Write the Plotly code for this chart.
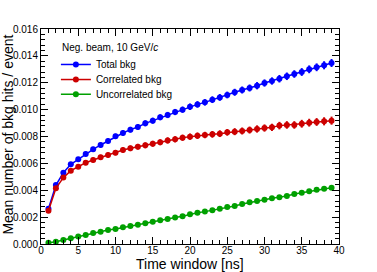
import plotly.graph_objects as go

time_ns = list(range(1, 40))

total_bkg = [0.00263, 0.00439, 0.00530, 0.00593, 0.00630, 0.00670, 0.00705, 0.00737, 0.00767, 0.00801,
             0.00826, 0.00851, 0.00871, 0.00898, 0.00918, 0.00943, 0.00960, 0.00982, 0.01000, 0.01022,
             0.01039, 0.01054, 0.01074, 0.01091, 0.01109, 0.01129, 0.01146, 0.01161, 0.01178, 0.01198,
             0.01213, 0.01230, 0.01248, 0.01265, 0.01280, 0.01300, 0.01315, 0.01330, 0.01347]
total_err = [0.00012, 0.00014, 0.00015, 0.00016, 0.00017, 0.00018, 0.00018, 0.00019, 0.00019, 0.00020,
             0.00020, 0.00021, 0.00021, 0.00022, 0.00022, 0.00022, 0.00023, 0.00023, 0.00023, 0.00024,
             0.00024, 0.00024, 0.00025, 0.00025, 0.00025, 0.00026, 0.00026, 0.00026, 0.00027, 0.00027,
             0.00027, 0.00028, 0.00028, 0.00028, 0.00029, 0.00029, 0.00029, 0.00030, 0.00030]

corr_bkg = [0.00248, 0.00414, 0.00494, 0.00546, 0.00575, 0.00605, 0.00625, 0.00645, 0.00662, 0.00680,
            0.00700, 0.00712, 0.00724, 0.00734, 0.00746, 0.00757, 0.00771, 0.00779, 0.00791, 0.00799,
            0.00806, 0.00811, 0.00816, 0.00821, 0.00831, 0.00836, 0.00841, 0.00848, 0.00856, 0.00863,
            0.00868, 0.00881, 0.00886, 0.00886, 0.00895, 0.00903, 0.00908, 0.00913, 0.00918]
corr_err = [0.00012, 0.00014, 0.00015, 0.00016, 0.00017, 0.00018, 0.00018, 0.00019, 0.00019, 0.00020,
            0.00020, 0.00021, 0.00021, 0.00022, 0.00022, 0.00022, 0.00023, 0.00023, 0.00023, 0.00024,
            0.00024, 0.00024, 0.00025, 0.00025, 0.00025, 0.00026, 0.00026, 0.00026, 0.00027, 0.00027,
            0.00027, 0.00028, 0.00028, 0.00028, 0.00029, 0.00029, 0.00029, 0.00030, 0.00030]

uncorr_bkg = [0.00010, 0.00017, 0.00030, 0.00042, 0.00055, 0.00067, 0.00082, 0.00092, 0.00104, 0.00112,
              0.00124, 0.00134, 0.00144, 0.00154, 0.00166, 0.00176, 0.00186, 0.00198, 0.00207, 0.00222,
              0.00233, 0.00241, 0.00251, 0.00263, 0.00275, 0.00283, 0.00298, 0.00310, 0.00320, 0.00330,
              0.00340, 0.00347, 0.00357, 0.00372, 0.00382, 0.00392, 0.00404, 0.00412, 0.00419]
uncorr_err = [0.00003] * 39

legend_header = "Neg. beam, 10 GeV/<i>c</i>"
names = ["Total bkg", "Correlated bkg", "Uncorrelated bkg"]
colors = ["#0000ff", "#cc0000", "#00a000"]
legend_ids = ["legend", "legend2", "legend3"]

fig = go.Figure()
for y, e, n, c, lg in [(total_bkg, total_err, names[0], colors[0], legend_ids[0]),
                       (corr_bkg, corr_err, names[1], colors[1], legend_ids[1]),
                       (uncorr_bkg, uncorr_err, names[2], colors[2], legend_ids[2])]:
    fig.add_trace(go.Scatter(
        x=time_ns, y=y, name=n, mode="lines+markers", legend=lg,
        line=dict(color=c, width=1.5),
        marker=dict(color=c, size=6, symbol="circle"),
        error_y=dict(type="data", array=e, color=c, thickness=2, width=0),
    ))

font = "Liberation Sans, Arial, sans-serif"
leg_common = dict(x=0.05, xanchor="left", yanchor="middle", bgcolor="rgba(0,0,0,0)",
                  font=dict(size=10), itemwidth=30)
fig.update_layout(
    width=377, height=272,
    margin=dict(l=41, r=38, t=29, b=28),
    paper_bgcolor="white", plot_bgcolor="white",
    font=dict(family=font, size=10, color="black"),
    showlegend=True,
    legend=dict(y=0.835, **leg_common),
    legend2=dict(y=0.765, **leg_common),
    legend3=dict(y=0.697, **leg_common),
    xaxis=dict(
        range=[0, 40], dtick=5, tick0=0,
        ticks="inside", ticklen=7, tickcolor="black", ticklabelstandoff=-3,
        showline=True, linecolor="black", linewidth=1, mirror="allticks",
        showgrid=False, zeroline=False,
        minor=dict(dtick=1, ticks="inside", ticklen=4, tickcolor="black", showgrid=False),
        tickfont=dict(size=10),
    ),
    yaxis=dict(
        range=[0, 0.016], dtick=0.002, tick0=0, tickformat=".3f",
        ticks="inside", ticklen=7, tickcolor="black",
        showline=True, linecolor="black", linewidth=1, mirror="allticks",
        showgrid=False, zeroline=False,
        minor=dict(dtick=0.0004, ticks="inside", ticklen=4, tickcolor="black", showgrid=False),
        tickfont=dict(size=10),
    ),
    annotations=[
        dict(text=legend_header, xref="paper", yref="paper", x=0.063, y=0.912,
             xanchor="left", yanchor="middle", showarrow=False, font=dict(size=10)),
        dict(text="Time window [ns]", xref="paper", yref="paper", x=0.5, y=-0.093,
             xanchor="center", yanchor="middle", showarrow=False, font=dict(size=14)),
        dict(text="Mean number of bkg hits / event", xref="paper", yref="paper",
             x=-0.112, y=0.507, xanchor="center", yanchor="middle", textangle=-90,
             showarrow=False, font=dict(size=14)),
    ],
)

fig.write_html("out.html", config={"displayModeBar": False},
               post_script="document.body.style.margin='0';")
